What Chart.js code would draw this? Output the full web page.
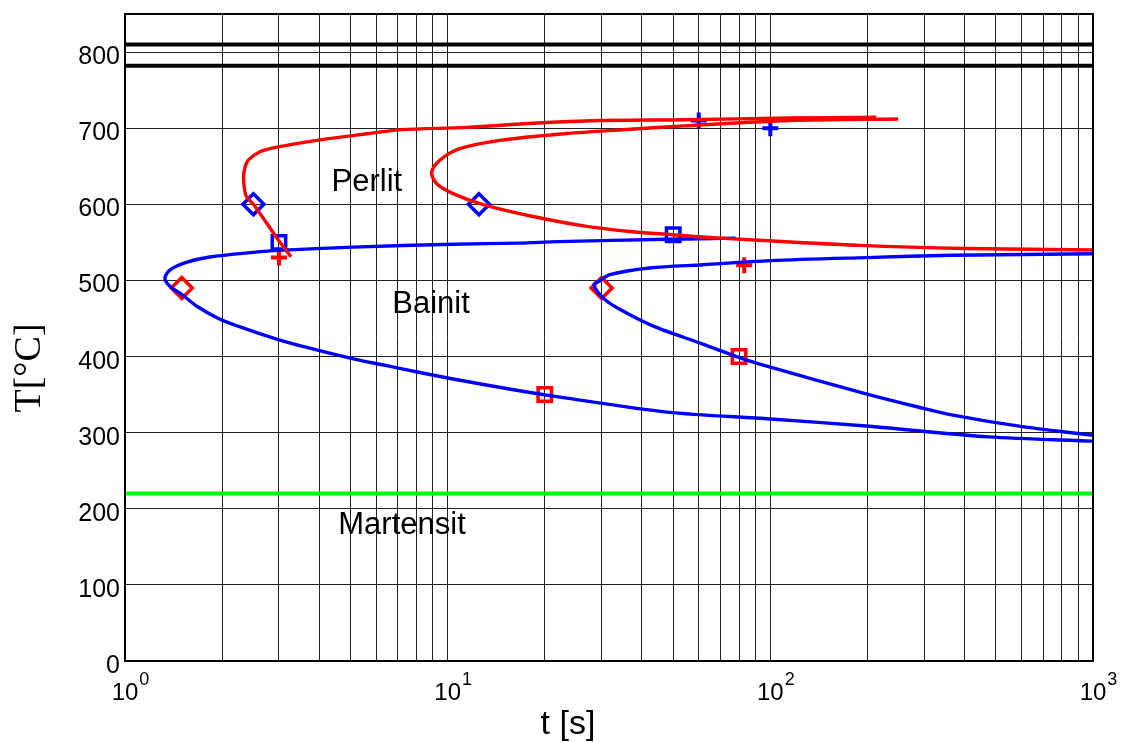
<!DOCTYPE html>
<html>
<head>
<meta charset="utf-8">
<title>ZTU-Diagramm</title>
<script src="https://cdn.jsdelivr.net/npm/chart.js@4.4.1/dist/chart.umd.min.js"></script>
<style>
    html, body { margin: 0; padding: 0; background: #fff; }
    #wrap { width: 1128px; height: 742px; }
</style>
</head>
<body>
<div id="wrap"><canvas id="ztu" width="1128" height="742"></canvas></div>
<script>
// Perlit-Beginn (linke Nase), t in s, T in °C
const perlitStartT    = [3.27, 3.0, 2.75, 2.5, 2.38, 2.35, 2.33, 2.36, 2.41, 2.62, 2.95, 3.93, 5.61, 7.1, 11.5, 18.4, 29.6, 54, 115, 213];
const perlitStartTemp = [531, 552, 575, 600, 610, 618, 636, 650, 658, 669, 675, 684, 692.6, 697.8, 701, 706.5, 710, 711, 713.4, 714.3];

// Perlit-Ende (rechte Nase)
const perlitEndT    = [1000, 400, 189, 89.5, 61.5, 49.8, 37.4, 27, 18.4, 12.8, 10.4, 9.25, 8.92, 9.47, 10.9, 14.5, 23.4, 35, 54, 115, 249];
const perlitEndTemp = [540, 542, 546, 553, 557, 560, 564, 571, 584, 600, 614, 627, 642, 658, 673, 684, 693, 698, 703, 710, 712];

// Bainit-Beginn
const bainitStartT    = [78, 48, 22, 16.7, 10.4, 5.1, 3.0, 2.5, 1.83, 1.55, 1.38, 1.33, 1.38, 1.5, 1.67, 1.97, 2.38, 2.95, 3.66, 5.1, 6.47, 8.2, 10.4, 16.7, 22.3, 47.8, 100, 198, 474, 1000];
const bainitStartTemp = [555.5, 554, 551, 549, 547.6, 543.7, 539.4, 536.8, 530.7, 523.7, 514, 503, 492, 481.5, 466, 449, 436, 423, 412, 397, 388, 379, 370.5, 355, 346.6, 327, 318, 308.7, 294.4, 288.8];

// Bainit-Ende
const bainitEndT    = [1000, 368, 198, 100, 61.8, 42.2, 31.8, 29.5, 28.4, 30.3, 33.5, 43.2, 61.8, 79.7, 100, 132.6, 198, 285, 368, 612, 1000];
const bainitEndTemp = [535, 533, 530, 526, 520.6, 516.3, 507.6, 499, 494.5, 477, 464, 440.2, 416.3, 399, 386, 371.4, 351, 334, 323, 307.5, 296.6];

// Ac-Linien und Martensit-Start
const acTemps = [810, 782];
const msTemp = 220;
const tRange = [1, 1000];

// Messpunkte
const blueDiamondT = [2.5, 12.5],  blueDiamondTemp = [600, 600];
const blueSquareT  = [3, 50],      blueSquareTemp  = [550, 560];
const bluePlusT    = [60, 100],    bluePlusTemp    = [710, 700];
const redDiamondT  = [1.5, 30],    redDiamondTemp  = [490, 490];
const redSquareT   = [20, 80],     redSquareTemp   = [350, 400];
const redPlusT     = [3, 83],      redPlusTemp     = [530, 520];

// Gefügebereiche
const areaNames = ['Perlit', 'Bainit', 'Martensit'];
const areaT     = [5.62, 8.88, 7.22];
const areaTemp  = [617, 457.6, 166.5];

// Achsen
const xGrid = [1, 2, 3, 4, 5, 6, 7, 8, 9, 10, 20, 30, 40, 50, 60, 70, 80, 90, 100, 200, 300, 400, 500, 600, 700, 800, 900, 1000];
const xDecades = [0, 1, 2, 3];
const yTicks = [0, 100, 200, 300, 400, 500, 600, 700, 800];

const SANS = '"Liberation Sans", Arial, Helvetica, sans-serif';
const SERIF = '"Liberation Serif", "Times New Roman", serif';

function pts(ts, temps) {
    return ts.map((t, i) => ({ x: t, y: temps[i] }));
}

function curve(ts, temps, color) {
    return {
        data: pts(ts, temps),
        showLine: true,
        borderColor: color,
        borderWidth: 3.4,
        pointRadius: 0,
        tension: 0.3,
        fill: false
    };
}

function hline(temp, color, width) {
    return {
        data: pts(tRange, [temp, temp]),
        showLine: true,
        borderColor: color,
        borderWidth: width,
        pointRadius: 0,
        fill: false
    };
}

function marker(ts, temps, color, style, radius, width) {
    return {
        data: pts(ts, temps),
        showLine: false,
        pointStyle: style,
        pointRadius: radius,
        pointBorderColor: color,
        pointBackgroundColor: 'rgba(0,0,0,0)',
        pointBorderWidth: width
    };
}

// Rahmen, Achsenbeschriftung und Bereichsnamen
const beschriftung = {
    id: 'beschriftung',
    afterDraw(chart) {
        const { ctx, chartArea: a, scales: { x, y } } = chart;
        ctx.save();
        ctx.fillStyle = '#000';

        ctx.strokeStyle = '#000';
        ctx.lineWidth = 2;
        ctx.strokeRect(a.left, a.top, a.right - a.left, a.bottom - a.top);

        ctx.font = '25px ' + SANS;
        ctx.textAlign = 'right';
        ctx.textBaseline = 'alphabetic';
        yTicks.forEach(v => ctx.fillText(String(v), a.left - 5, y.getPixelForValue(v) + 12));

        xDecades.forEach(e => {
            const px = x.getPixelForValue(Math.pow(10, e));
            ctx.font = '24px ' + SANS;
            ctx.textAlign = 'center';
            ctx.fillText('10', px, a.bottom + 39);
            const w = ctx.measureText('10').width;
            ctx.font = '18px ' + SANS;
            ctx.textAlign = 'left';
            ctx.fillText(String(e), px + w / 2 + 1, a.bottom + 24);
        });

        ctx.font = '31px ' + SANS;
        ctx.textAlign = 'center';
        areaNames.forEach((name, i) => {
            ctx.fillText(name, x.getPixelForValue(areaT[i]), y.getPixelForValue(areaTemp[i]));
        });

        ctx.font = '34px ' + SANS;
        ctx.fillText('t [s]', 568, 734);

        ctx.translate(40, 368);
        ctx.rotate(-Math.PI / 2);
        ctx.font = '38px ' + SERIF;
        ctx.fillText('T[°C]', 0, 0);
        ctx.restore();
    }
};

document.addEventListener('DOMContentLoaded', function () {
    const ctx = document.getElementById('ztu').getContext('2d');
    new Chart(ctx, {
        type: 'scatter',
        data: {
            datasets: [
                hline(acTemps[0], '#000', 4),
                hline(acTemps[1], '#000', 4),
                hline(msTemp, '#00ff00', 4),
                curve(perlitStartT, perlitStartTemp, '#ff0000'),
                curve(perlitEndT, perlitEndTemp, '#ff0000'),
                curve(bainitStartT, bainitStartTemp, '#0000ff'),
                curve(bainitEndT, bainitEndTemp, '#0000ff'),
                marker(blueDiamondT, blueDiamondTemp, '#0000ff', 'rectRot', 10.5, 3.5),
                marker(blueSquareT, blueSquareTemp, '#0000ff', 'rect', 9.5, 3.5),
                marker(bluePlusT, bluePlusTemp, '#0000ff', 'cross', 8, 4),
                marker(redDiamondT, redDiamondTemp, '#ff0000', 'rectRot', 10.5, 3.5),
                marker(redSquareT, redSquareTemp, '#ff0000', 'rect', 9.5, 3.5),
                marker(redPlusT, redPlusTemp, '#ff0000', 'cross', 8, 4)
            ]
        },
        options: {
            responsive: false,
            animation: false,
            layout: { padding: { left: 125, right: 35, top: 9, bottom: 81 } },
            plugins: { legend: { display: false }, tooltip: { enabled: false } },
            scales: {
                x: {
                    type: 'logarithmic',
                    min: 1,
                    max: 1000,
                    afterBuildTicks: s => { s.ticks = xGrid.map(v => ({ value: v })); },
                    ticks: { display: false },
                    grid: { color: '#222', lineWidth: 1, drawTicks: false },
                    border: { display: false }
                },
                y: {
                    type: 'linear',
                    min: 0,
                    max: 850,
                    afterBuildTicks: s => { s.ticks = yTicks.map(v => ({ value: v })); },
                    ticks: { display: false },
                    grid: { color: '#222', lineWidth: 1, drawTicks: false },
                    border: { display: false }
                }
            }
        },
        plugins: [beschriftung]
    });
});
</script>
</body>
</html>
